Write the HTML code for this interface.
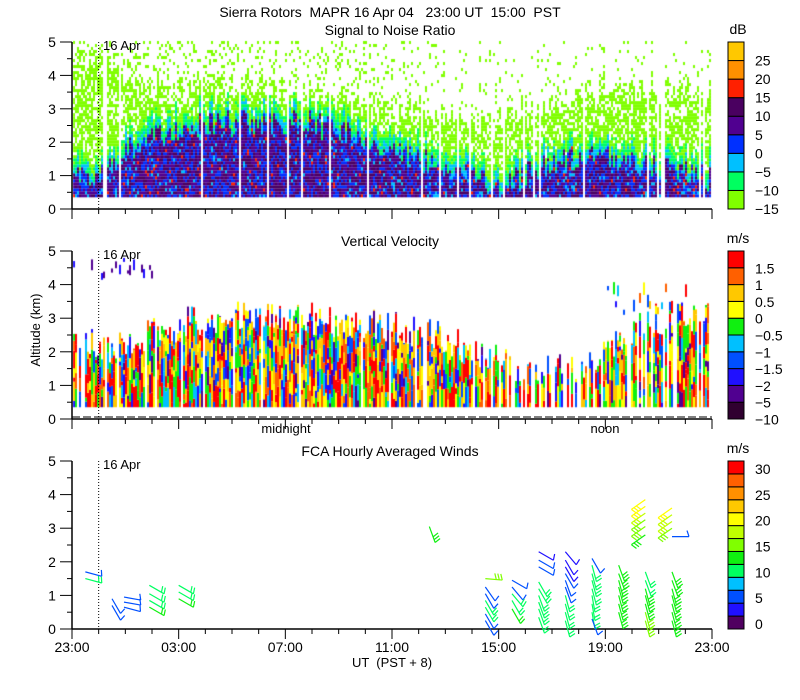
<!DOCTYPE html>
<html><head><meta charset="utf-8">
<style>
body{margin:0;background:#fff;width:800px;height:700px;overflow:hidden;font-family:"Liberation Sans",sans-serif}
#wrap{position:relative;width:800px;height:700px}
canvas{position:absolute;left:0;top:0}
text{white-space:pre}
</style></head><body>
<div id="wrap">
<canvas id="c" width="800" height="700"></canvas>
<svg id="s" width="800" height="700" style="position:absolute;left:0;top:0"></svg>
</div>
<script>
// ---- data (hours since 23:00 UT, 0..24) ----
const hours=[0,1,2,3,4,5,6,7,8,9,10,11,12,13,14,15,16,17,18,19,20,21,22,23,24];
const snrGreenTop=[4.5,4.5,4.0,3.5,3.6,3.6,3.6,3.6,3.4,3.4,3.2,3.0,3.0,3.0,2.8,2.5,2.7,3.0,3.2,3.6,3.6,3.7,3.6,3.6,3.5];
const snrCoreTop=[1.2,1.4,2.0,2.4,2.6,2.8,2.8,2.9,2.9,2.8,2.6,2.3,2.0,1.8,1.5,1.2,1.0,1.3,1.6,1.8,1.8,1.7,1.5,1.3,1.2];
const snrCoreStrength=[0.3,0.4,0.6,0.8,0.9,0.9,1,1,1,1,0.9,0.8,0.7,0.5,0.4,0.3,0.3,0.4,0.6,0.6,0.6,0.5,0.4,0.3,0.3];
const snrSpeckle=[0.3,0.3,0.2,0.18,0.18,0.18,0.18,0.18,0.15,0.15,0.15,0.15,0.12,0.1,0.07,0.05,0.05,0.05,0.06,0.05,0.05,0.05,0.05,0.05,0.05];
const velTop=[2.8,2.0,2.2,2.6,2.8,3.0,3.1,3.1,3.0,3.0,2.9,2.8,2.8,2.6,2.4,2.0,1.8,1.5,1.5,1.6,2.0,2.6,3.0,3.0,3.2];
const velGap=[0.3,0.3,0.15,0.1,0.1,0.05,0.05,0.05,0.05,0.05,0.05,0.1,0.1,0.15,0.15,0.2,0.25,0.3,0.3,0.3,0.3,0.3,0.3,0.3,0.3];
const snrTicks=["25","20","15","10","5","0","\u22125","\u221210","\u221215"];
const velTicks=["1.5","1","0.5","0","\u22120.5","\u22121","\u22121.5","\u22122","\u22125","\u221210"];
const windTicks=["30","25","20","15","10","5","0"];
const xLabels=["23:00","03:00","07:00","11:00","15:00","19:00","23:00"];
// barbs: time (h), altitude (km), speed (m/s), shaft bearing (deg, 0=up, clockwise)
const barbT=[0.5,0.5, 1.5,1.5, 1.95,1.95,1.95, 2.9,2.9,2.9,2.9, 4.0,4.0,4.0, 13.4,
 15.5,15.5,15.5,15.5,15.5,15.5,15.5, 16.5,16.5,16.5,16.5,16.5, 17.5,17.5,17.5,17.5,17.5,17.5,17.5,17.5,17.5,
 18.5,18.5,18.5,18.5,18.5,18.5,18.5,18.5,18.5,18.5, 19.5,19.5,19.5,19.5,19.5,19.5,19.5,19.5,19.5,
 20.5,20.5,20.5,20.5,20.5,20.5,20.5, 21.5,21.5,21.5,21.5,21.5,21.5, 21.5,21.5,21.5,21.5,21.5,21.5,21.5,
 22.5,22.5,22.5,22.5,22.5, 22.5,22.5,22.5,22.5,22.5,22.5,22.5];
const barbA=[1.7,1.5, 0.9,0.7, 0.95,0.8,0.65, 1.3,1.05,0.85,0.65, 1.3,1.1,0.9, 3.05,
 1.5,1.25,1.05,0.85,0.65,0.45,0.25, 1.45,1.25,1.05,0.85,0.6, 2.3,2.05,1.85,1.4,1.2,1.0,0.8,0.6,0.35,
 2.3,2.05,1.85,1.65,1.45,1.25,1.0,0.75,0.5,0.25, 2.1,1.9,1.65,1.45,1.2,1.0,0.75,0.5,0.3,
 1.9,1.65,1.45,1.25,1.0,0.75,0.5, 3.85,3.65,3.45,3.25,3.05,2.8, 1.7,1.45,1.2,1.0,0.75,0.5,0.25,
 3.6,3.4,3.2,3.0,2.75, 1.7,1.45,1.2,1.0,0.75,0.5,0.25];
const barbS=[6,9, 5,5, 4,5,6, 9,9,11,12, 9,11,12, 13,
 16,5,6,9,9,6,6, 5,5,9,9,12, 3,4,5,9,9,9,9,9,9,
 3,3,3,4,4,6,9,9,9,9, 6,9,9,9,9,9,9,9,6,
 13,13,13,13,13,13,13, 20,19,18,16,14,13, 9,9,13,13,13,14,14,
 20,18,17,15,5, 13,13,13,13,13,13,13];
const barbD=[105,105, 150,150, 100,100,105, 120,120,120,120, 120,120,120, 160,
 95,145,150,150,150,150,150, 120,140,140,150,150, 120,120,120,150,150,160,160,160,160,
 140,150,150,150,160,160,165,165,165,165, 150,165,165,165,165,170,170,170,160,
 160,160,165,165,165,165,165, 235,235,235,235,235,235, 160,160,165,165,165,165,165,
 235,235,235,235,90, 160,160,165,165,165,165,165];

const snrCols=["#80ff00","#00ff60","#00c0ff","#0030ff","#500090","#4a0060","#ff2000","#ff9000","#ffc800"];
const velCols=["#300030","#500090","#2010ff","#0050ff","#00c0ff","#10f010","#ffff00","#ffc800","#ff6000","#ff0000"];
const windCols=["#500060","#2010ff","#0050ff","#00c0ff","#00ff60","#10f010","#80ff00","#c0ff00","#ffff00","#ffc800","#ff9000","#ff6000","#ff0000"];

const X0=72,X1=712;
const panels=[{top:42,bot:209},{top:251,bot:419},{top:461,bot:629}];
function xs(h){return X0+(X1-X0)*h/24;}
function ys(p,a){return p.bot-(p.bot-p.top)*a/5;}
function interp(arr,h){const i=Math.max(0,Math.min(23,Math.floor(h)));const f=h-i;return arr[i]*(1-f)+arr[i+1]*f;}
let seed=12345;function rnd(){seed=(seed*1103515245+12345)%2147483648;return seed/2147483648;}

const ctx=document.getElementById('c').getContext('2d');
// ---- SNR field ----
(function(){const p=panels[0];
 for(let x=X0+1;x<X1-2;x+=2){const h=(x-X0)/26.667;
  if(rnd()<0.08)continue;
  const gt=interp(snrGreenTop,h)+(rnd()-0.5)*1.0, ct=interp(snrCoreTop,h)+(rnd()-0.5)*0.8;
  const st=interp(snrCoreStrength,h), sp=interp(snrSpeckle,h);
  for(let a=0.35;a<4.95;a+=0.09){let c=null;
   if(a<ct-0.3){const r=rnd();
     if(r<0.1*(1-st)+0.04)c=snrCols[2];else if(r<0.45-0.15*st)c=snrCols[3];else if(r<0.97)c=snrCols[4+(rnd()<0.45?1:0)];else c=snrCols[6];}
   else if(a<ct){c=rnd()<0.5?snrCols[2]:snrCols[1];}
   else if(a<ct+0.25){c=rnd()<0.4?snrCols[1]:snrCols[0];}
   else if(a<gt){if(rnd()<0.65)c=snrCols[0];}
   else if(rnd()<sp)c=snrCols[0];
   if(c){ctx.fillStyle=c;ctx.fillRect(x,ys(p,a+0.09),2,3);}
  }}
})();
// ---- Velocity field ----
(function(){const p=panels[1];
 for(let x=X0+1;x<X1-2;x+=2){const h=(x-X0)/26.667;
  if(rnd()<interp(velGap,h))continue;
  const t=interp(velTop,h)+(rnd()-0.5)*1.0;
  let a=0.35;
  while(a<t){const len=0.1+rnd()*0.6;const r=rnd();
   const c=r<0.2?velCols[9]:r<0.3?velCols[8]:r<0.45?velCols[7]:r<0.58?velCols[6]:r<0.72?velCols[5]:r<0.8?velCols[4]:r<0.88?velCols[3]:r<0.95?velCols[2]:velCols[1];
   ctx.fillStyle=c;const aa=Math.min(t,a+len);ctx.fillRect(x,ys(p,aa),2,ys(p,a)-ys(p,aa));a=aa;}
  if(h<3&&rnd()<0.4){ctx.fillStyle=rnd()<0.7?velCols[1]:velCols[2];ctx.fillRect(x,ys(p,4.3+rnd()*0.5),2,3+rnd()*8);}
  if(h>20&&h<23&&rnd()<0.5){ctx.fillStyle=velCols[Math.floor(rnd()*10)];ctx.fillRect(x,ys(p,3.2+rnd()*0.9),2,3+rnd()*10);}
 }
})();

// ---- SVG overlay ----
const svg=document.getElementById('s');const NS="http://www.w3.org/2000/svg";
function el(tag,attrs,name,parent){const e=document.createElementNS(NS,tag);for(const k in attrs)e.setAttribute(k,attrs[k]);
 
 
 (parent||svg).appendChild(e);return e;}
function txt(x,y,s,name,anchor,size){const t=el('text',{x:x,y:y,'font-size':size||13,'text-anchor':anchor||'start','font-family':'Liberation Sans, sans-serif',fill:'#000'},name);t.textContent=s;return t;}

txt(390,17,"Sierra Rotors  MAPR 16 Apr 04   23:00 UT  15:00  PST","chart-title","middle",14);
const titles=["Signal to Noise Ratio","Vertical Velocity","FCA Hourly Averaged Winds"];
const tY=[35,246,456];
panels.forEach((p,i)=>{
 txt(390,tY[i],titles[i],"panel-title","middle",14);
 el('line',{x1:X0,y1:p.top,x2:X0,y2:p.bot,stroke:'#000','stroke-width':1.5},'y-axis-line');
 el('line',{x1:X0,y1:p.bot,x2:X1,y2:p.bot,stroke:'#000','stroke-width':1.5},'x-axis-line');
 for(let k=0;k<=10;k++){const y=ys(p,k/2);const maj=k%2==0;
  el('line',{x1:maj?60:67,y1:y,x2:X0,y2:y,stroke:'#000','stroke-width':1},'y-tick');
  if(maj)txt(52,y+5,String(k/2),'y-tick-label','middle',14);}
 for(let h=0;h<=24;h++){const x=xs(h);const maj=h%4==0;
  el('line',{x1:x,y1:p.bot,x2:x,y2:p.bot+(maj?10:5),stroke:'#000','stroke-width':1},'x-tick');}
 el('line',{x1:xs(1),y1:p.top,x2:xs(1),y2:p.bot,stroke:'#000','stroke-width':1,'stroke-dasharray':'1,2'},'date-marker-line');
 txt(103,p.top+8,"16 Apr","date-marker-label","start",13);
});
el('line',{x1:X0,y1:417,x2:X1,y2:417,stroke:'#000','stroke-width':1,'stroke-dasharray':'8,3'},'surface-gate-line');
txt(286,433,"midnight","midnight-label","middle",13);
txt(605,433,"noon","noon-label","middle",13);
xLabels.forEach((s,i)=>txt(xs(i*4),652,s,'x-tick-label','middle',14));
txt(392,667,"UT  (PST + 8)","x-axis-title","middle",13);
const yt=el('text',{x:40,y:330,'font-size':13,'text-anchor':'middle','font-family':'Liberation Sans, sans-serif',transform:'rotate(-90 40 330)'},'y-axis-title');yt.textContent="Altitude (km)";

// colorbars
function cbar(p,cols,labels,unit,name,labStep,labOff){
 const n=cols.length,hgt=(p.bot-p.top)/n;
 txt(738,p.top-8,unit,name+'-unit','middle',14);
 for(let i=0;i<n;i++){const y=p.bot-(i+1)*hgt;
  el('rect',{x:728,y:y,width:16,height:hgt,fill:cols[i],stroke:'#000','stroke-width':1},name+'-swatch');}
 labels.forEach((s,j)=>{const y=p.top+j*labStep*hgt+labOff;txt(755,y+5,s,name+'-label','start',14);});
}
cbar(panels[0],snrCols,snrTicks,"dB","snr-colorbar",1,(panels[0].bot-panels[0].top)/9/2+9.3);
cbar(panels[1],velCols,velTicks,"m/s","velocity-colorbar",1,(panels[1].bot-panels[1].top)/10+0.5);
cbar(panels[2],windCols,windTicks,"m/s","wind-colorbar",2,8);

// barbs
const p3=panels[2];
for(let i=0;i<barbT.length;i++){
 const x=xs(barbT[i]),y=ys(p3,barbA[i]);const sp=barbS[i];
 const c=windCols[Math.min(12,Math.round(sp/2.5))];
 const th=barbD[i]*Math.PI/180;const dx=Math.sin(th),dy=-Math.cos(th);
 const L=17,x2=x+dx*L,y2=y+dy*L;
 el('line',{x1:x,y1:y,x2:x2,y2:y2,stroke:c,'stroke-width':1.2},'wind-barb');
 const nf=Math.max(1,Math.round(sp/5));
 for(let f=0;f<Math.min(nf,3);f++){const bx=x2-dx*f*3,by=y2-dy*f*3;
  el('line',{x1:bx,y1:by,x2:bx+dy*6-dx*2,y2:by-dx*6-dy*2,stroke:c,'stroke-width':1.2},'wind-barb-feather');}
}
</script>
</body></html>
